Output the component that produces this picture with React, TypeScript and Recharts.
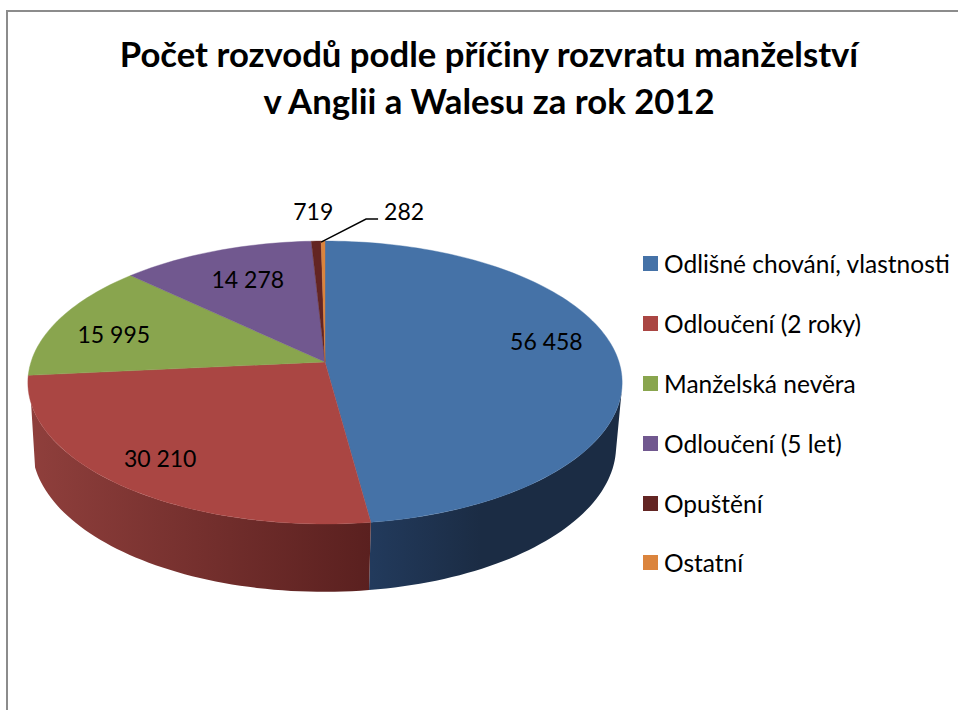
import React from "react";
import { PieChart, Pie, Legend } from "recharts";

const categories = ["Odlišné chování, vlastnosti", "Odloučení (2 roky)", "Manželská nevěra", "Odloučení (5 let)", "Opuštění", "Ostatní"];
const values = [56458, 30210, 15995, 14278, 719, 282];
const valueLabels = ["56 458", "30 210", "15 995", "14 278", "719", "282"];
const colors = ["#4572A7", "#AA4643", "#89A54E", "#71588F", "#632523", "#DB843D"];
const wallFrom = ["#223A5C", "#8F3F3C", "#89A54E", "#71588F", "#632523", "#DB843D"];
const wallTo = ["#1B2C44", "#5A201F", "#89A54E", "#71588F", "#632523", "#DB843D"];
const titleLines = ["Počet rozvodů podle příčiny rozvratu manželství", "v Anglii a Walesu za rok 2012"];

const FONT = "Lato, Carlito, sans-serif";
const W = 958;
const H = 710;
const CX = 325;
const CY = 362;
const R = 294;
const K = 0.145;
const TILT = 86;
const BASE_CX = 324;
const BASE_CY = 425;
const BASE_R = 289;
const BASE_TILT = 81;
const SIL_RIGHT = 11;
const SIL_LEFT = 16.6;

const labelPlacement = [
  { depth: 0.75, dx: 3, dy: -14 },
  { depth: 0.8, dx: -4, dy: 1 },
  { depth: 0.78, dx: -2, dy: 6 },
  { depth: 0.7, dx: 2, dy: -2 },
  { depth: 1, dx: -3, dy: -30 },
  { depth: 1, dx: 81, dy: -30 },
];

const rows = categories.map((name, i) => ({ name, value: values[i], label: valueLabels[i], fill: colors[i], from: wallFrom[i], to: wallTo[i] }));

const rad = (d: number) => (d * Math.PI) / 180;

// perspective projection of a disc point
function topPoint(deg: number, f = 1) {
  const X = f * Math.cos(rad(deg));
  const Y = f * Math.sin(rad(deg));
  const w = 1 + K * Y;
  return { x: CX + (R * X) / w, y: (CY + -TILT * Y) / w };
}
function basePoint(deg: number) {
  const X = Math.cos(rad(deg));
  const Y = Math.sin(rad(deg));
  const w = 1 + K * Y;
  return { x: BASE_CX + (BASE_R * X) / w, y: (BASE_CY + -BASE_TILT * Y) / w };
}
function sample(a: number, b: number) {
  const n = Math.max(2, Math.ceil(Math.abs(a - b) / 1.5));
  const out: number[] = [];
  for (let i = 0; i <= n; i++) out.push(a + ((b - a) * i) / n);
  return out;
}

function Slice3D(props: any) {
  const { startAngle, endAngle, fill, payload, index } = props;
  const top = sample(startAngle, endAngle).map((d) => topPoint(d));
  const topD = `M${CX},${CY} ` + top.map((p) => `L${p.x.toFixed(2)},${p.y.toFixed(2)}`).join(" ") + " Z";
  const a = Math.min(startAngle, -SIL_RIGHT);
  const b = Math.max(endAngle, -180 + SIL_LEFT);
  let wall = null;
  if (a > b) {
    const angs = sample(a, b);
    const upper = angs.map((d) => topPoint(d));
    const lower = angs.map((d) => basePoint(d)).reverse();
    const d = "M" + [...upper, ...lower].map((p) => `${p.x.toFixed(2)},${p.y.toFixed(2)}`).join(" L") + " Z";
    const id = `wall-${index}`;
    const xs = upper.map((p) => p.x);
    const x1 = Math.min(...xs);
    const x2 = index === 0 ? Math.min(...xs) + 110 : Math.max(...xs);
    wall = (
      <g>
        <defs>
          <linearGradient id={id} gradientUnits="userSpaceOnUse" x1={x1} x2={x2} y1={0} y2={0}>
            <stop offset="0" stopColor={payload?.from ?? fill} />
            <stop offset="1" stopColor={payload?.to ?? fill} />
          </linearGradient>
        </defs>
        <path d={d} fill={`url(#${id})`} stroke="none" />
      </g>
    );
  }
  return (
    <g>
      {wall}
      <path d={topD} fill={fill} stroke={fill} strokeWidth={0.4} />
    </g>
  );
}

function ValueLabel(props: any) {
  const { index, midAngle } = props;
  const place = labelPlacement[index];
  const p = topPoint(midAngle, place.depth);
  const x = p.x + place.dx;
  const y = p.y + place.dy;
  return (
    <g>
      {index === 5 ? (
        <polyline
          points={`${p.x - 2},${p.y + 1} ${p.x + 43},${p.y - 22} ${p.x + 55},${p.y - 22}`}
          fill="none"
          stroke="#000"
          strokeWidth={1.4}
        />
      ) : null}
      <text x={x} y={y} textAnchor="middle" dominantBaseline="central" fontFamily={FONT} fontSize={23} fill="#000">
        {rows[index].label}
      </text>
    </g>
  );
}

function LegendList(props: any) {
  const items = props.payload ?? [];
  return (
    <div style={{ fontFamily: FONT, fontSize: 24.5, color: "#000" }}>
      {items.map((it: any) => (
        <div key={it.value} style={{ height: 59.8, display: "flex", alignItems: "center", whiteSpace: "nowrap" }}>
          <span style={{ width: 15, height: 15, background: it.color, marginRight: 6, flex: "none" }} />
          <span>{it.value}</span>
        </div>
      ))}
    </div>
  );
}

export default function App() {
  return (
    <div style={{ position: "absolute", left: 0, top: 0, width: W, height: H, background: "#fff", overflow: "hidden" }}>
      <div style={{ position: "absolute", left: 6, top: 10, width: W, height: H, borderLeft: "2px solid #8C8C8C", borderTop: "2px solid #8C8C8C" }} />
      <div style={{ position: "absolute", left: 0, top: 0 }}>
        <PieChart width={W} height={H} margin={{ top: 0, right: 0, bottom: 0, left: 0 }}>
          {titleLines.map((t, i) => (
            <text key={t} x={489} y={67 + i * 47} textAnchor="middle" fontFamily={FONT} fontWeight={700} fontSize={34.7} fill="#000">
              {t}
            </text>
          ))}
          <Pie
            data={rows}
            dataKey="value"
            nameKey="name"
            cx={CX}
            cy={CY}
            outerRadius={R}
            startAngle={90}
            endAngle={-270}
            stroke="none"
            isAnimationActive={false}
            shape={Slice3D}
            label={ValueLabel}
            labelLine={false}
          />
          <Legend
            layout="vertical"
            align="right"
            verticalAlign="top"
            content={LegendList}
            itemSorter={null}
            wrapperStyle={{ position: "absolute", left: 643, top: 234, width: 315, right: "auto" }}
          />
        </PieChart>
      </div>
    </div>
  );
}
